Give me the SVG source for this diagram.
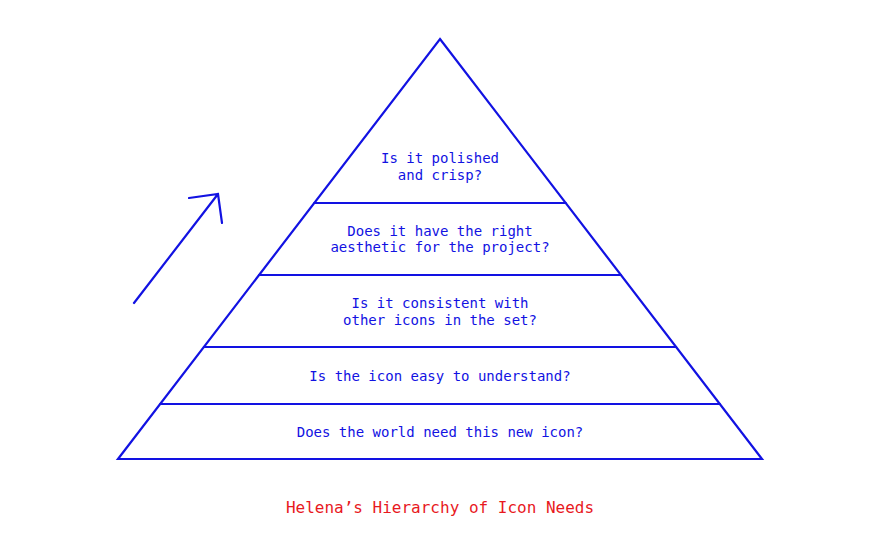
<svg xmlns="http://www.w3.org/2000/svg" width="880" height="556" viewBox="0 0 880 556">
<style>
.s{fill:none;stroke:#1212e2;stroke-width:2.2;stroke-linecap:round;stroke-linejoin:miter}
.t{font-family:"DejaVu Sans Mono","Liberation Mono",monospace;font-size:14px;fill:#1212e2;text-anchor:middle}
.title{font-family:"DejaVu Sans Mono","Liberation Mono",monospace;font-size:16px;fill:#e8191e;text-anchor:middle}
</style>
<rect width="880" height="556" fill="#ffffff"/>
<g id="pyramid">
<path class="s" d="M440 39 L762 459 L118 459 Z"/>
</g>
<g id="connectors">
<line class="s" x1="314.3" y1="203" x2="565.7" y2="203"/>
<line class="s" x1="259.1" y1="275" x2="620.9" y2="275"/>
<line class="s" x1="203.9" y1="347" x2="676.1" y2="347"/>
<line class="s" x1="160.2" y1="404" x2="719.8" y2="404"/>
<path class="s" d="M134 303 L218 194 M189 198 L218 194 L222 223"/>
</g>
<g id="level5">
<text class="t" x="440" y="163">Is it polished</text>
<text class="t" x="440" y="180">and crisp?</text>
</g>
<g id="level4">
<text class="t" x="440" y="236">Does it have the right</text>
<text class="t" x="440" y="252">aesthetic for the project?</text>
</g>
<g id="level3">
<text class="t" x="440" y="308">Is it consistent with</text>
<text class="t" x="440" y="325">other icons in the set?</text>
</g>
<g id="level2">
<text class="t" x="440" y="381">Is the icon easy to understand?</text>
</g>
<g id="level1">
<text class="t" x="440" y="437">Does the world need this new icon?</text>
</g>
<g id="caption">
<text class="title" x="440" y="513">Helena’s Hierarchy of Icon Needs</text>
</g>
</svg>
